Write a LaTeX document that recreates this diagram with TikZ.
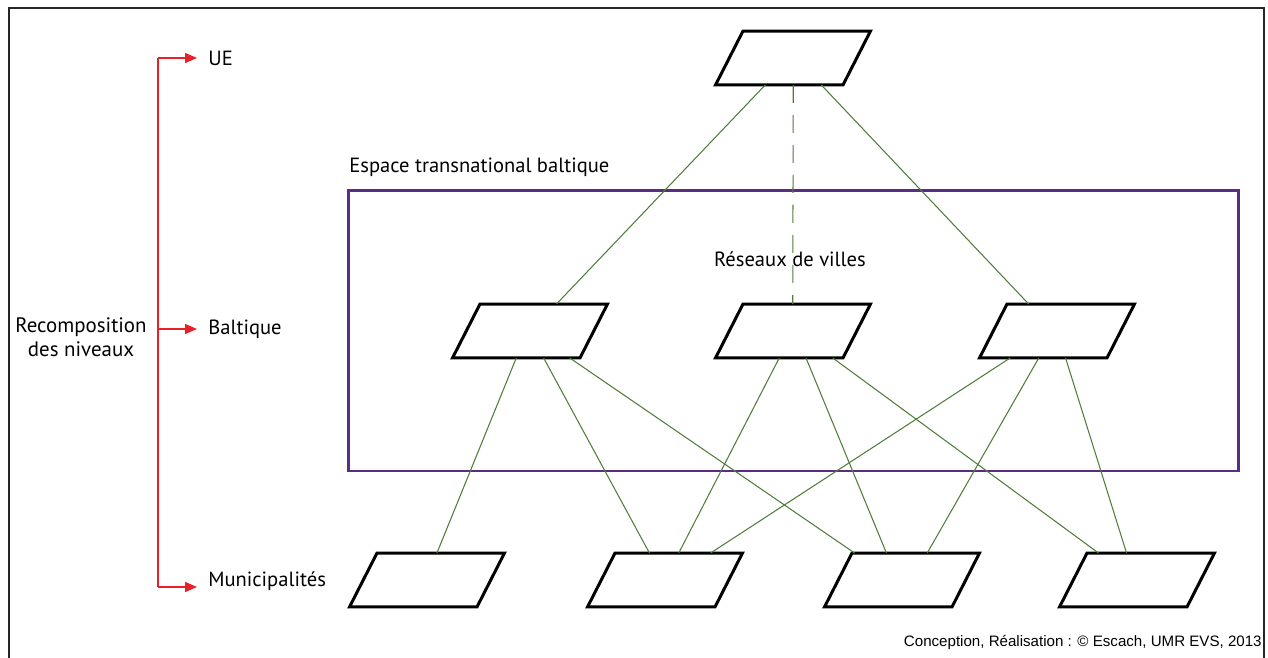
\documentclass[tikz,border=0pt]{standalone}
\usepackage{fontspec}
\setmainfont{PT Sans}
\newfontfamily\creditfont{Liberation Sans}
\usetikzlibrary{arrows.meta, positioning, shapes.geometric, calc}

\definecolor{linkgreen}{HTML}{4F7D3B}
\definecolor{zonepurple}{HTML}{5B2D82}
\definecolor{levelred}{HTML}{E8202A}

\tikzset{
    para/.style={draw, trapezium, trapezium left angle=63, trapezium right angle=117,
        inner xsep=1cm, inner ysep=0.54cm, outer sep=0pt, line width=0.06cm, fill=white},
    link/.style={linkgreen, line width=0.6pt},
    level/.style={anchor=west, inner sep=0pt, font=\fontsize{11.7}{14}\selectfont},
    redline/.style={levelred, line width=0.8pt},
    redarrow/.style={redline, -{Triangle[length=0.24cm, width=0.2cm]}, shorten >=0.22cm}
}

\begin{document}
\begin{tikzpicture}[x=0.02cm, y=-0.02cm]
    \useasboundingbox (0,0) rectangle (1268,658);

    % Frame
    \draw[line width=0.05cm, black!85] (9,658) -- (9,8) -- (1264,8) -- (1264,658);

    % Baltic space
    \draw[zonepurple, line width=0.06cm] (348,191) rectangle (1238,471);
    \node[anchor=west, inner sep=0pt, font=\fontsize{11.7}{14}\selectfont] (espace) at (349,167) {Espace transnational baltique};
    \node[inner sep=0pt, font=\fontsize{11.7}{14}\selectfont] (reseaux) at (790,259) {Réseaux de villes};

    % Levels
    \node[level] (ue) at (208,58) {UE};
    \node[level] (baltique) at (208,329) {Baltique};
    \node[level] (munic) at (208,581) {Municipalités};
    \node[align=center, inner sep=0pt, font=\fontsize{11.9}{13.6}\selectfont] (recomp) at (81,337) {Recomposition\\des niveaux};

    \coordinate (btop) at (158,58);
    \coordinate (bbot) at (158,587);
    \draw[redline] (btop) -- (bbot);
    \draw[redarrow] (btop) -- (btop -| ue.west);
    \draw[redarrow] (baltique.west -| btop) -- (baltique.west);
    \draw[redarrow] (bbot) -- (bbot -| munic.west);

    % Boxes
    \node[para] (nUE) at (793,58) {};
    \foreach \n/\x in {M1/530, M2/793, M3/1057}
        \node[para] (n\n) at (\x,331) {};
    \foreach \n/\x in {B1/427, B2/665, B3/902, B4/1137}
        \node[para] (n\n) at (\x,580) {};

    % Links
    \draw[link] ($(nUE.bottom left corner)!.39!(nUE.bottom right corner)$) -- ($(nM1.top left corner)!.60!(nM1.top right corner)$);
    \draw[link, dash pattern=on 0.36cm off 0.24cm] ($(nUE.bottom left corner)!.61!(nUE.bottom right corner)$) -- ($(nM2.top left corner)!.39!(nM2.top right corner)$);
    \draw[link] ($(nUE.bottom left corner)!.83!(nUE.bottom right corner)$) -- ($(nM3.top left corner)!.17!(nM3.top right corner)$);

    \foreach \a/\s/\b/\t in {M1/.50/B1/.47, M1/.715/B2/.27, M1/.92/B3/.02,
                             M2/.50/B2/.50, M2/.71/B3/.27, M2/.92/B4/.09,
                             M3/.24/B2/.75, M3/.465/B3/.59, M3/.675/B4/.31}
        \draw[link] ($(n\a.bottom left corner)!\s!(n\a.bottom right corner)$) -- ($(n\b.top left corner)!\t!(n\b.top right corner)$);

    % Credit
    \node[anchor=east, inner sep=0pt, font=\creditfont\fontsize{8.6}{10}\selectfont] (credit) at (1262,643) {Conception, Réalisation : © Escach, UMR EVS, 2013};
\end{tikzpicture}
\end{document}
